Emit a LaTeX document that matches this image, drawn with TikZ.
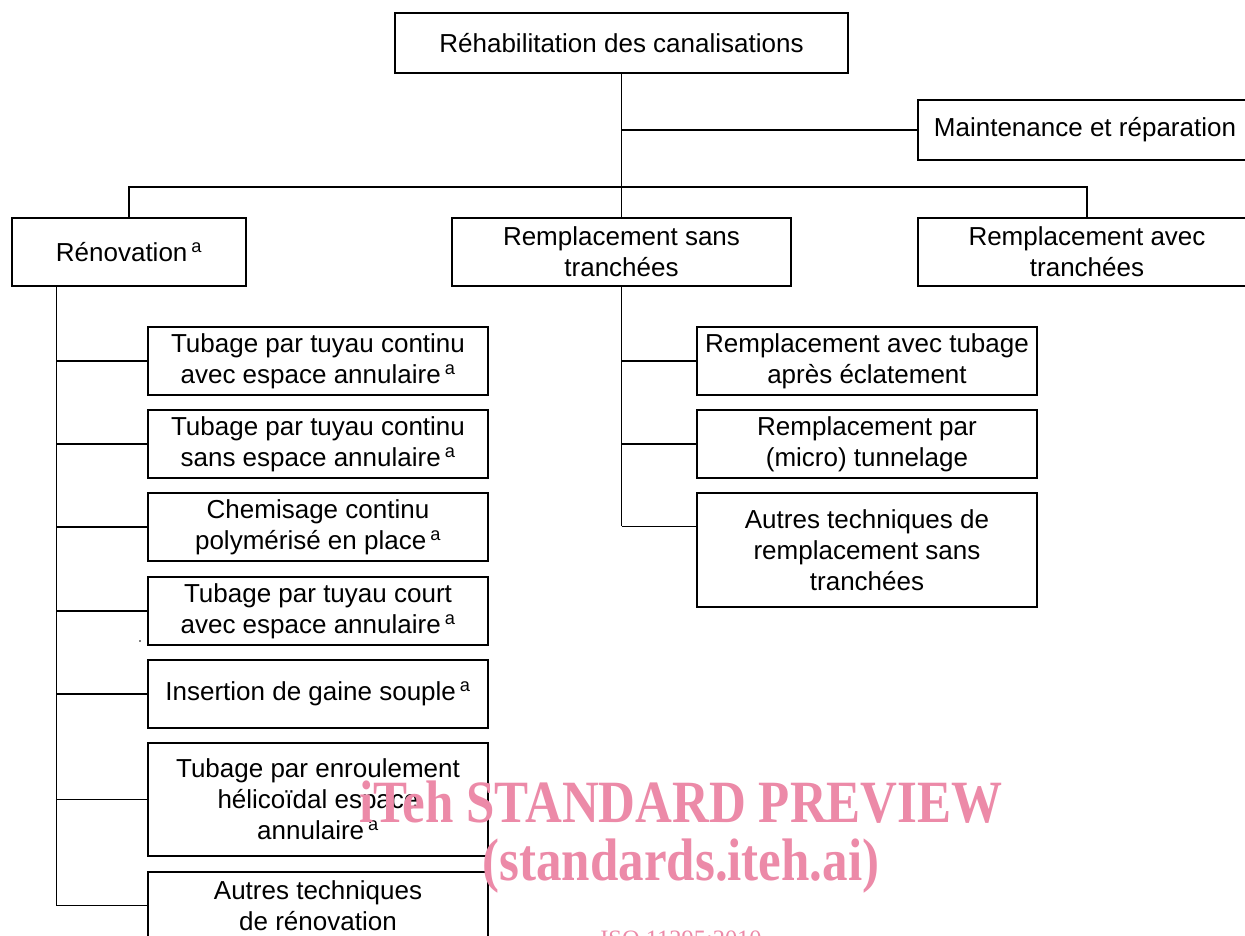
\documentclass[tikz,border=0pt]{standalone}
\usepackage{fontspec}
\setmainfont{Liberation Sans}
\newfontfamily\wmfont{Liberation Serif}
\definecolor{wmpink}{RGB}{236,138,168}
\begin{document}
\begin{tikzpicture}[x=1pt,y=-1pt,
  box/.style={draw, line width=1.5pt, align=center, inner sep=0pt,
    font=\fontsize{26}{31}\selectfont},
  conn/.style={line width=1.5pt},
  wm/.style={text=wmpink, inner sep=0pt, anchor=base, xscale=0.85}
]
\useasboundingbox (0,0) rectangle (1245,936);
\fill[white] (0,0) rectangle (1245,936);
\clip (0,0) rectangle (1245,936);
\newcommand{\supa}{\hspace{4pt}\textsuperscript{a}}
% top levels
\node[box, minimum width=453pt, minimum height=60pt] (top) at (621.5,43) {Réhabilitation des canalisations};
\node[box, minimum width=334pt, minimum height=60pt] (mnt) at (1085,130) {Maintenance et réparation};
\node[box, minimum width=234pt, minimum height=68pt] (ren) at (129,252) {Rénovation\supa};
\node[box, minimum width=339pt, minimum height=68pt] (rs) at (621.5,252) {Remplacement sans\\tranchées};
\node[box, minimum width=338pt, minimum height=68pt] (ra) at (1087,252) {Remplacement avec\\tranchées};
% left children
\node[box, minimum width=340pt, minimum height=68pt] (c1) at (318,361) {Tubage par tuyau continu\\avec espace annulaire\supa};
\node[box, minimum width=340pt, minimum height=68pt] (c2) at (318,444) {Tubage par tuyau continu\\sans espace annulaire\supa};
\node[box, minimum width=340pt, minimum height=68pt] (c3) at (318,527) {Chemisage continu\\polymérisé en place\supa};
\node[box, minimum width=340pt, minimum height=68pt] (c4) at (318,611) {Tubage par tuyau court\\avec espace annulaire\supa};
\node[box, minimum width=340pt, minimum height=68pt] (c5) at (318,694) {Insertion de gaine souple\supa};
\node[box, minimum width=340pt, minimum height=113pt] (c6) at (318,799.5) {Tubage par enroulement\\hélicoïdal espace\\annulaire\supa};
\node[box, minimum width=340pt, minimum height=67pt] (c7) at (318,905.5) {Autres techniques\\de rénovation};
% right children
\node[box, minimum width=340pt, minimum height=68pt] (r1) at (867,361) {Remplacement avec tubage\\après éclatement};
\node[box, minimum width=340pt, minimum height=68pt] (r2) at (867,444) {Remplacement par\\(micro) tunnelage};
\node[box, minimum width=340pt, minimum height=114pt] (r3) at (867,550) {Autres techniques de\\remplacement sans\\tranchées};
% connectors
\coordinate (bar) at (621.5,187);
\draw[conn] (top.south) -- (rs.north);
\draw[conn] (top.south |- mnt.west) -- (mnt.west);
\draw[conn] (ren.north) |- (bar) -| (ra.north);
\coordinate (rt) at ([xshift=45pt]ren.south west);
\draw[conn] (rt) -- (rt |- c7.west);
\foreach \n in {c1,c2,c3,c4,c5,c6,c7}
  \draw[conn] (rt |- \n.west) -- (\n.west);
\coordinate (r3b) at ([yshift=-34pt]r3.north west);
\draw[conn] (rs.south) -- (rs.south |- r3b);
\draw[conn] (rs.south |- r1.west) -- (r1.west);
\draw[conn] (rs.south |- r2.west) -- (r2.west);
\draw[conn] (rs.south |- r3b) -- (r3b);
\fill (140,641) circle (0.9);
% watermark
\node[wm, font=\wmfont\bfseries\fontsize{60}{60}\selectfont] (wm1) at (681,822) {iTeh STANDARD PREVIEW};
\node[wm, font=\wmfont\bfseries\fontsize{60}{60}\selectfont] (wm2) at (681,880) {(standards.iteh.ai)};
\node[wm, xscale=1.15, font=\wmfont\fontsize{25}{25}\selectfont] (wm3) at (681,947) {ISO 11295:2010};
\end{tikzpicture}
\end{document}
